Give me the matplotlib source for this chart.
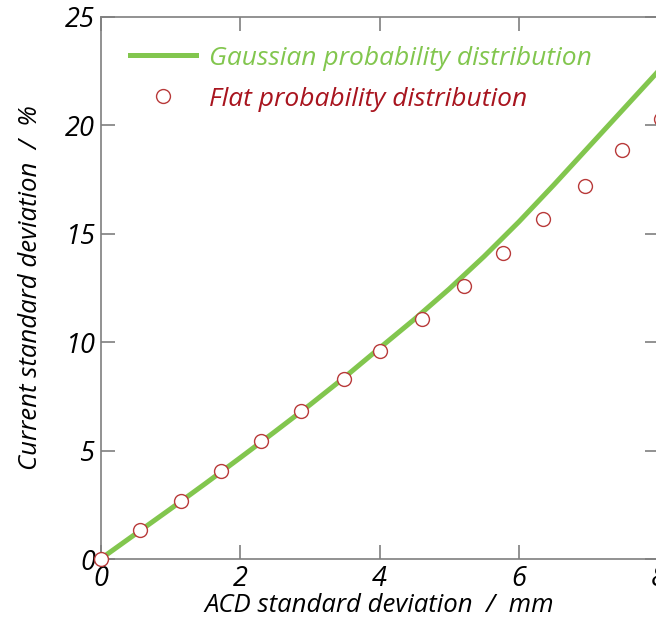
import matplotlib.pyplot as plt
import numpy as np

# Gaussian probability distribution (solid line)
gauss_x = [0, 0.5, 1, 1.5, 2, 2.5, 3, 3.5, 4, 4.5, 5, 5.5, 6, 6.5, 7, 7.5, 8]
gauss_y = [0, 1.15, 2.3, 3.47, 4.66, 5.87, 7.1, 8.38, 9.72, 11.05, 12.45,
           13.95, 15.55, 17.25, 19.0, 20.75, 22.5]

# Flat probability distribution (open circles)
flat_x = [0, 0.57, 1.16, 1.73, 2.30, 2.87, 3.49, 4.01, 4.61, 5.21, 5.77,
          6.34, 6.95, 7.48, 8.03]
flat_y = [0, 1.34, 2.68, 4.06, 5.44, 6.83, 8.30, 9.59, 11.07, 12.59, 14.1,
          15.68, 17.2, 18.85, 20.28]

x_ticks = [0, 2, 4, 6, 8]
y_ticks = [0, 5, 10, 15, 20, 25]

green = '#82C64E'
red_edge = '#B83A3A'
red_text = '#A8141E'
gray = '#7F7F7F'

plt.rcParams['font.family'] = ['Open Sans', 'DejaVu Sans']
plt.rcParams['font.style'] = 'italic'

W, H = 656, 635
fig = plt.figure(figsize=(W / 100, H / 100), dpi=100)
fig.patch.set_facecolor('white')
ax = fig.add_axes([100.5 / W, (H - 559) / H, 558 / W, (559 - 16.7) / H])

ax.plot(gauss_x, gauss_y, color=green, linewidth=3.6,
        label='Gaussian probability distribution', zorder=2)
ax.plot(flat_x, flat_y, linestyle='none', marker='o', markersize=10,
        markerfacecolor='white', markeredgecolor=red_edge,
        markeredgewidth=1.0, label='Flat probability distribution',
        zorder=3, clip_on=False)

ax.set_xlim(0, 8)
ax.set_ylim(0, 25)
ax.set_xticks(x_ticks)
ax.set_yticks(y_ticks)

for side in ['left', 'right', 'top', 'bottom']:
    ax.spines[side].set_color(gray)
    ax.spines[side].set_linewidth(1.2)

ax.tick_params(direction='in', length=10, width=1.2, color=gray,
               top=True, right=True, labelsize=19.5, labelcolor='black',
               pad=4)

ax.set_xlabel('ACD standard deviation  /  mm', fontsize=18.5, labelpad=0)
ax.set_ylabel('Current standard deviation  /  %', fontsize=18.5, labelpad=16)

leg = ax.legend(loc='upper left', bbox_to_anchor=(0.0, 1.0),
                frameon=False, fontsize=19, handlelength=2.5,
                handletextpad=0.5, labelspacing=0.6, borderaxespad=0.7)
leg.get_texts()[0].set_color(green)
leg.get_texts()[1].set_color(red_text)

plt.savefig('out.png', dpi=100, facecolor='white')
